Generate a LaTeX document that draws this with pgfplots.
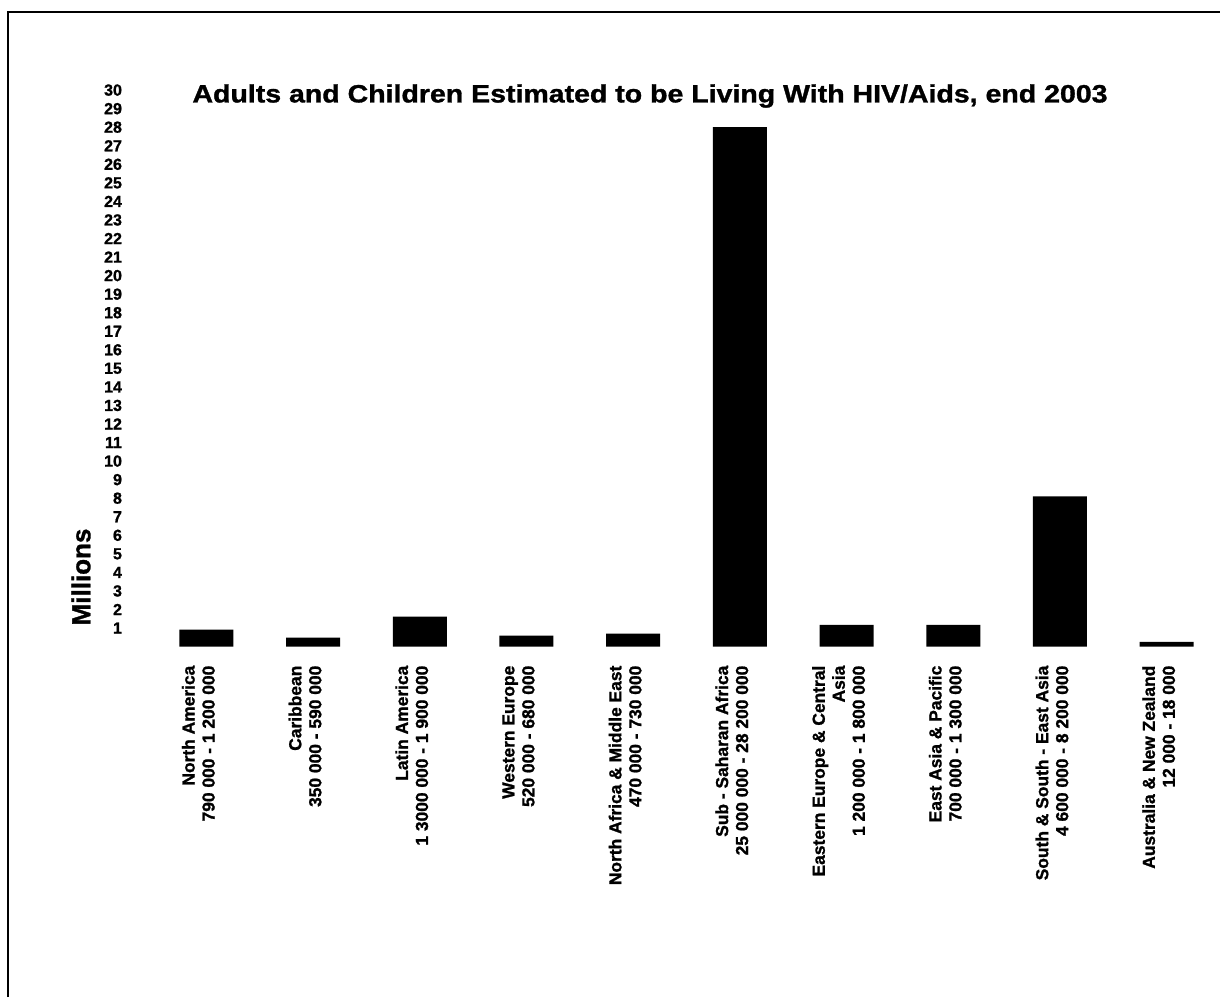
\documentclass[border=0pt]{standalone}
\usepackage{fontspec}
\setmainfont{Liberation Sans}[BoldFeatures={FakeBold=1.2}]
\usepackage{pgfplots}
\pgfplotsset{compat=1.18}
\begin{document}
\begin{tikzpicture}[x=0.5pt,y=0.5pt]
\useasboundingbox (0,0) rectangle (1220,997);
\fill[white] (0,0) rectangle (1220,997);
% page frame (top and left edges)
\draw[line width=1pt] (8,0) -- (8,985) -- (1220,985);
\begin{axis}[
  at={(76.5pt,175.2pt)}, anchor=south west,
  scale only axis, width=533.5pt, height=278.25pt,
  xmin=-0.5, xmax=9.5, ymin=0, ymax=30,
  enlargelimits=false, clip=false,
  axis line style={draw=none},
  major tick length=0pt,
  ybar, bar width=27pt,
  xtick={0,...,9},
  xticklabels={
    {North America\\790 000 - 1 200 000},
    {Caribbean\\350 000 - 590 000},
    {Latin America\\1 3000 000 - 1 900 000},
    {Western Europe\\520 000 - 680 000},
    {North Africa \& Middle East\\470 000 - 730 000},
    {Sub - Saharan Africa\\25 000 000 - 28 200 000},
    {Eastern Europe \& Central\\Asia\\1 200 000 - 1 800 000},
    {East Asia \& Pacific\\700 000 - 1 300 000},
    {South \& South - East Asia\\4 600 000 - 8 200 000},
    {Australia \& New Zealand\\12 000 - 18 000}},
  ytick={1,...,30},
  /pgf/number format/assume math mode=true,
  yticklabel style={font=\fontsize{8}{8}\selectfont\bfseries, xshift=-12pt},
  xticklabel style={xshift=-4pt, yshift=-6pt, rotate=90, anchor=east, align=right,
    font=\fontsize{8.7}{10}\selectfont\bfseries},
]
\addplot[fill=black, draw=none] coordinates {
  (0,0.92) (1,0.49) (2,1.62) (3,0.59) (4,0.70)
  (5,28.0) (6,1.17) (7,1.17) (8,8.1) (9,0.25)};
\end{axis}
\node[font=\fontsize{12.5}{14}\selectfont\bfseries] at (650,901)
  {\scalebox{1.14}[1]{Adults and Children Estimated to be Living With HIV/Aids, end 2003}};
\node[rotate=90, font=\fontsize{13}{15}\selectfont\bfseries] at (81,420) {Millions};
\end{tikzpicture}
\end{document}
